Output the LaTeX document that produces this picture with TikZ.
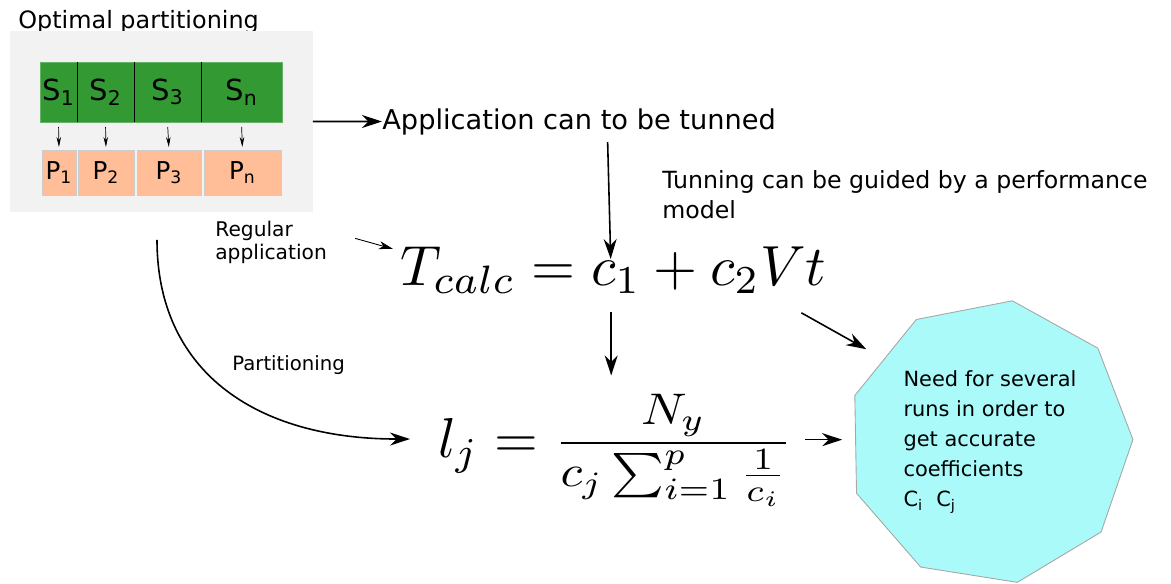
\documentclass[tikz,border=0pt]{standalone}
\usepackage[no-math]{fontspec}
\setmainfont{DejaVu Sans}
\usepackage{amsmath}
\usepackage{graphicx}
\usetikzlibrary{positioning, arrows.meta, shapes.geometric, calc}
\definecolor{panelgray}{RGB}{242,242,242}
\definecolor{segreen}{RGB}{51,153,51}
\definecolor{peach}{RGB}{255,190,152}
\definecolor{needcyan}{RGB}{170,250,250}

\begin{document}
\begin{tikzpicture}[x=0.02cm, y=-0.02cm,
    seg/.style={fill=segreen, draw=segreen!75!white, line width=0.5pt, minimum height=1.2cm, inner sep=0pt, outer sep=0pt, font=\fontsize{16.5}{18}\selectfont},
    pbox/.style={fill=peach, draw=black!20, line width=0.5pt, minimum height=0.9cm, inner sep=0pt, outer sep=0pt, font=\fontsize{14}{16}\selectfont},
    lbl/.style={inner sep=0pt, align=left},
    arr/.style={-{Stealth[length=4mm, width=2.6mm, inset=1.3mm]}, line width=0.9pt},
    sarr/.style={-{Stealth[length=2.8mm, width=1.6mm, inset=0.8mm]}, line width=0.5pt},
    tarr/.style={-{Stealth[length=2mm, width=0.9mm]}, line width=0.4pt}]
  \useasboundingbox (0,0) rectangle (1171,583);
  % partitioning panel
  \node[lbl, anchor=base west, font=\fontsize{13.6}{16}\selectfont] (title) at (18,28) {Optimal partitioning};
  \node[fill=panelgray, minimum width=6.06cm, minimum height=3.62cm, inner sep=0pt, outer sep=0pt] (panel) at (161.5,121.5) {};
  \node[seg, minimum width=0.74cm, anchor=north west] (s1) at (40,62) {S\textsubscript{1}};
  \node[seg, minimum width=1.14cm, right=0pt of s1] (s2) {S\textsubscript{2}};
  \node[seg, minimum width=1.34cm, right=0pt of s2] (s3) {S\textsubscript{3}};
  \node[seg, minimum width=1.62cm, right=0pt of s3] (sn) {S\textsubscript{n}};
  \foreach \a in {s1,s2,s3} \draw[line width=0.5pt] (\a.north east) -- (\a.south east);
  \node[pbox, minimum width=0.68cm, anchor=north west] (p1) at (42,150) {P\textsubscript{1}};
  \node[pbox, minimum width=1.12cm, right=0.04cm of p1] (p2) {P\textsubscript{2}};
  \node[pbox, minimum width=1.28cm, right=0.06cm of p2] (p3) {P\textsubscript{3}};
  \node[pbox, minimum width=1.54cm, right=0.06cm of p3] (pn) {P\textsubscript{n}};
  \foreach \i in {1,2,3,n} \draw[tarr, shorten <=0.1cm, shorten >=0.06cm] (s\i.south) -- (p\i.north);
  % texts
  \node[lbl, anchor=base west, font=\fontsize{15.5}{18}\selectfont] (app) at (382,129) {Application can to be tunned};
  \node[lbl, anchor=base west, font=\fontsize{13.45}{17}\selectfont] (guide) at (662,218) {Tunning can be guided by a performance\\model};
  \node[lbl, anchor=base west, font=\fontsize{11.5}{12.6}\selectfont] (reg) at (215,259) {Regular\\application};
  \node[lbl, anchor=base west, font=\fontsize{11.2}{13}\selectfont] (partlbl) at (232,370) {Partitioning};
  % formulas
  \node[inner sep=0pt, anchor=base west] (tcalc) at (400,285) {\scalebox{3.22}{$T_{calc} = c_1 + c_2 V t$}};
  \node[inner sep=0pt, anchor=base west] (lj) at (438,457) {\scalebox{3.2}{$l_j =$}\hspace{9.3pt}\raisebox{1.7pt}{\scalebox{2.85}[2.52]{$\displaystyle\frac{N_y}{c_j \sum_{i=1}^{p} \frac{1}{c_i}}$}}};
  \node[regular polygon, regular polygon sides=9, shape border rotate=-9, minimum size=5.72cm, fill=needcyan, draw=black!35, line width=0.5pt, align=left, font=\fontsize{11.9}{17}\selectfont] (need) at (990,442) {Need for several\\runs in order to\\get accurate\\coefficients\\C\textsubscript{i}\ \ C\textsubscript{j}};
  % connectors
  \draw[arr] (panel.east) -- (app.west);
  \draw[arr] ($(app.south)+(28.5,7)$) -- ($(tcalc.north)+(-2.5,13)$);
  \draw[arr] ($(tcalc.south)+(-2,18)$) coordinate (dn) -- ($(dn |- lj.north)+(0,-18)$);
  \draw[sarr] ($(reg.east)+(28,-4)$) -- ($(tcalc.west)+(-7,-21)$);
  \draw[arr, shorten >=0.4cm] ($(tcalc.south east)+(-25,19)$) -- (need.142);
  \draw[arr, shorten <=0.26cm, shorten >=0.26cm] (lj.east |- need.179) -- (need.179);
  \draw[arr] ($(panel.south)+(-4.5,28)$) .. controls +(0,130) and +(-156,0) .. ($(lj.west)+(-28,-11)$);
\end{tikzpicture}
\end{document}
